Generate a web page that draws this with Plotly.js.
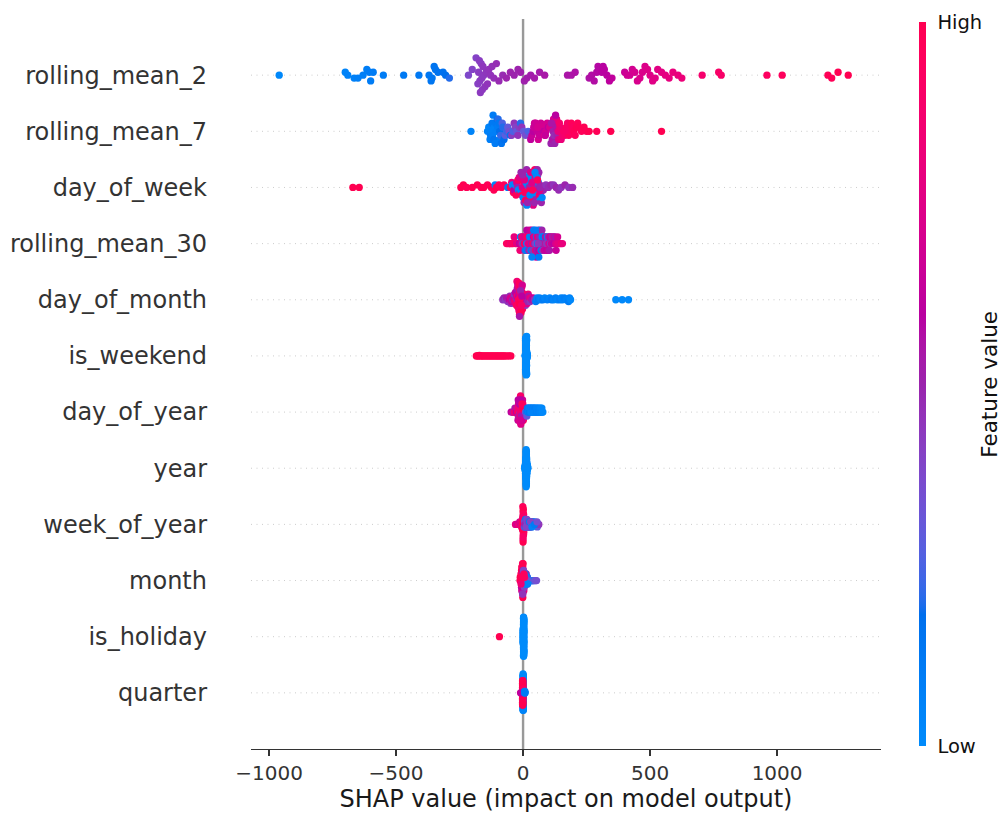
<!DOCTYPE html>
<html>
<head>
<meta charset="utf-8">
<script src="https://cdn.plot.ly/plotly-3.0.1.min.js"></script>
<style>
  html, body { margin: 0; padding: 0; background: #ffffff; }
  #chart { width: 1003px; height: 813px; }
</style>
</head>
<body>
<div id="chart"></div>
<script>
// Features, top to bottom (most important first)
const features = ['rolling_mean_2', 'rolling_mean_7', 'day_of_week', 'rolling_mean_30',
  'day_of_month', 'is_weekend', 'day_of_year', 'year', 'week_of_year', 'month',
  'is_holiday', 'quarter'];

const xTickVals = [-1000, -500, 0, 500, 1000];
const xTickText = ['\u22121000', '\u2212500', '0', '500', '1000'];

// SHAP values and scaled feature values (0 = low, 1 = high) per feature
const shap_rolling_mean_2 = [-960,-700,-690,-665,-650,-630,-615,-605,-600,-590,-550,-470,-410,-370,-362,-358,-350,-345,-335,-315,-305,-290,
  -215,-200,-185,-178,-175,-172,-170,-168,-165,-162,-160,-158,-155,-150,-145,-140,-135,-128,-122,-115,
  -105,-95,-80,-65,-50,-35,-20,-10,5,15,30,45,65,85,
  175,190,205,260,270,280,290,295,300,310,315,320,330,340,350,
  400,410,420,430,440,450,460,470,480,490,500,510,520,530,545,560,575,590,610,625,
  705,770,780,960,1020,1200,1215,1240,1280];
const fval_rolling_mean_2 = [0.02,0.05,0.06,0.07,0.08,0.08,0.09,0.1,0.1,0.1,0.1,0.12,0.12,0.13,0.14,0.14,0.15,0.15,0.16,0.17,0.18,0.2,
  0.38,0.4,0.4,0.41,0.42,0.42,0.42,0.43,0.42,0.43,0.43,0.44,0.43,0.44,0.44,0.45,0.45,0.45,0.46,0.46,
  0.47,0.48,0.48,0.5,0.5,0.5,0.5,0.51,0.51,0.52,0.52,0.53,0.53,0.54,
  0.55,0.55,0.56,0.56,0.57,0.57,0.58,0.58,0.58,0.59,0.59,0.6,0.6,0.61,0.62,
  0.66,0.67,0.68,0.69,0.7,0.71,0.72,0.72,0.73,0.74,0.74,0.75,0.76,0.76,0.77,0.78,0.79,0.8,0.8,0.82,
  0.88,0.9,0.9,0.94,0.95,0.98,0.98,0.99,1];

const shap_rolling_mean_7 = [-205,-140,-135,-130,-128,-125,-122,-120,-118,-115,-112,-110,-108,-105,-102,-100,-98,-95,-92,-90,-88,-85,-82,-80,-75,-70,-65,-60,
  -55,-50,-45,-40,-35,-30,-25,-20,-15,-10,-5,
  2,10,20,
  30,35,40,45,50,55,60,65,70,75,80,85,90,95,100,105,110,115,118,120,122,125,128,130,132,135,138,140,145,150,
  155,160,165,170,175,180,185,190,195,200,205,210,215,220,230,240,250,260,
  290,345,545,
  42,58,88,112,128,143,165];
const fval_rolling_mean_7 = [0.05,0.06,0.05,0.08,0.1,0.06,0.12,0.08,0.1,0.14,0.06,0.1,0.12,0.08,0.15,0.1,0.2,0.12,0.18,0.1,0.22,0.15,0.25,0.2,0.18,0.28,0.22,0.3,
  0.35,0.15,0.42,0.25,0.45,0.4,0.3,0.45,0.42,0.2,0.45,
  0.3,0.35,0.25,
  0.62,0.65,0.6,0.66,0.68,0.64,0.7,0.66,0.68,0.7,0.62,0.72,0.68,0.7,0.6,0.72,0.5,0.55,0.52,0.7,0.48,0.5,0.72,0.55,0.78,0.5,0.8,0.75,0.85,0.82,
  0.85,0.9,0.88,0.92,0.9,0.95,0.92,0.96,0.94,0.97,0.95,0.98,0.96,0.98,0.97,0.99,0.98,1,
  0.98,1,1,
  0.66,0.7,0.64,0.55,0.6,0.88,0.9];

const shap_day_of_week = [-670,-645,
  -245,-235,-222,-200,-180,-165,-155,-140,-125,-115,-110,-105,-95,-85,-75,-60,
  -50,-45,-42,-38,-35,-30,-28,-25,-22,-20,-18,-15,-12,-10,-8,-5,-3,0,2,4,6,8,10,12,14,16,18,20,22,24,26,28,30,32,34,36,38,40,42,44,46,48,50,52,54,56,58,60,62,64,66,68,70,72,75,78,80,
  5,15,25,35,45,55,65,-2,7,17,27,37,47,57,67,
  90,100,110,120,130,140,150,165,180,195];
const fval_day_of_week = [1,1,
  1,1,0.98,1,1,0.98,1,0.98,1,0.98,0.05,1,0.97,0.98,0.96,0.1,
  0.97,0.8,0.02,0.95,0.6,0.02,0.97,0.7,0.5,0.95,0.02,0.75,0.95,0.02,0.5,0.97,0.75,0.02,0.95,0.5,0.02,0.75,0.97,0.02,0.5,0.95,0.02,0.75,0.97,0.5,0.02,0.95,0.75,0.02,0.5,0.97,0.02,0.75,0.5,0.02,0.95,0.75,0.5,0.02,0.97,0.5,0.75,0.02,0.5,0.95,0.5,0.02,0.75,0.5,0.02,0.5,0.5,
  0.75,0.02,0.97,0.75,0.5,0.02,0.75,0.5,0.95,0.5,0.02,0.95,0.02,0.95,0.5,
  0.45,0.48,0.5,0.45,0.5,0.48,0.45,0.5,0.45,0.48];

const shap_rolling_mean_30 = [-65,-60,-55,-50,-45,-40,-35,-30,-25,-20,
  -15,-12,-10,-8,-5,-3,0,2,4,6,8,10,
  12,14,15,17,18,20,21,23,24,26,27,29,30,32,33,35,36,38,39,41,42,44,45,47,48,50,51,53,54,56,57,59,60,62,63,65,66,68,69,71,72,74,75,77,78,80,
  82,84,86,88,90,92,94,96,98,100,102,104,106,108,110,112,115,118,120,122,125,128,130,133,136,140,145,150,155,
  35,48,60];
const fval_rolling_mean_30 = [0.95,0.9,0.98,0.85,0.95,0.9,0.8,0.95,0.7,0.9,
  0.6,0.85,0.1,0.7,0.9,0.45,0.75,0.05,0.95,0.5,0.7,0.1,
  0.8,0.05,0.6,0.9,0.4,0.1,0.75,0.5,0.95,0.05,0.65,0.45,0.85,0.1,0.55,0.7,0.05,0.9,0.45,0.6,0.1,0.75,0.5,0.05,0.85,0.4,0.65,0.1,0.55,0.7,0.05,0.45,0.8,0.1,0.6,0.5,0.05,0.7,0.45,0.1,0.65,0.5,0.05,0.6,0.45,0.1,
  0.5,0.65,0.1,0.55,0.7,0.45,0.6,0.05,0.65,0.5,0.7,0.55,0.6,0.45,0.7,0.65,0.5,0.7,0.6,0.75,0.55,0.7,0.65,0.75,0.7,0.8,0.75,0.85,0.8,
  0.05,0.1,0.45];

const shap_day_of_month = [-80,-75,-70,-65,-60,-55,-52,-50,-48,-45,-42,-40,-38,-36,-34,-32,-30,-28,-27,-26,-25,-24,-23,-22,-21,-20,-19,-18,-17,-16,-15,-14,-13,-12,-11,-10,-9,-8,-7,-6,-5,-4,-3,-2,0,2,4,5,6,8,10,12,14,16,18,20,22,25,28,30,35,40,45,
  50,55,60,65,70,78,85,95,105,111,120,128,135,145,150,155,162,170,175,179,183,187,
  365,390,415,
  -20,-18,-16,-15,-14,-12,-10,-8,-6,-14,-10,-5];
const fval_day_of_month = [0.45,0.5,0.42,0.55,0.45,0.6,0.48,0.7,0.45,0.65,0.5,0.8,0.55,0.7,0.45,0.9,0.6,0.75,0.5,0.95,0.65,0.85,0.55,0.9,0.7,0.95,0.6,0.85,0.65,0.95,0.75,0.9,0.6,0.95,0.8,1,0.7,0.9,0.65,0.95,0.8,0.9,0.7,0.95,0.75,0.9,0.65,0.5,0.85,0.7,0.45,0.9,0.6,0.75,0.5,0.85,0.55,0.7,0.45,0.8,0.55,0.65,0.45,
  0.1,0.05,0.12,0.08,0.05,0.1,0.05,0.08,0.05,0.1,0.05,0.08,0.05,0.1,0.05,0.05,0.08,0.05,0.05,0.1,0.05,0.02,
  0.02,0.02,0.02,
  0.9,0.95,0.85,1,0.95,0.85,0.95,1,0.9,0.55,0.5,0.6];

const shap_is_weekend = [-184,-180,-176,-172,-168,-165,-160,-155,-150,-145,-140,-135,-130,-125,-120,-115,-110,-105,-100,-95,-90,-85,-80,-75,-70,-62,-55,-48,
  12,13,11,14,12,13,10,15,12,13, 11,14,12,13,16,9,12,13,11,14, 12,13,10,15,12,13,11,14,12,13, 17,8,12,13,11,14,12,13,10,15,
  12,13,11,14,12,13,16,9,12,13, 11,14,12,13,10,15,12,13,11,14, 12,13,12,13,11,14,12,13,12,13, 11,14];
const fval_is_weekend = [1,1,1,1,1,1,1,1,1,1,1,1,1,1,1,1,1,1,1,1,1,1,1,1,1,1,1,1,
  0,0,0,0,0,0,0,0,0,0, 0,0,0,0,0,0,0,0,0,0, 0,0,0,0,0,0,0,0,0,0, 0,0,0,0,0,0,0,0,0,0,
  0,0,0,0,0,0,0,0,0,0, 0,0,0,0,0,0,0,0,0,0, 0,0,0,0,0,0,0,0,0,0, 0,0];

const shap_day_of_year = [-47,-42,-38,-35,-32,-30,-28,-26,-24,-22,-21,-20,-19,-18,-17,-16,-15,-14,-13,-12,-11,-10,-9,-8,-7,-6,-5,-4,-3,-2,-1,0,1,2,3,4,5,6,7,8,
  -18,-15,-12,-9,-6,-3,0,-20,-14,-8,-2,-17,-11,-5,-1,-19,-13,-7,-4,-10,
  10,12,14,15,17,18,20,22,23,25,27,28,30,32,33,35,37,38,40,42,43,45,47,48,50,52,53,55,57,58,60,62,64,66,68,70,72,74,76,78];
const fval_day_of_year = [0.6,0.7,0.5,0.85,0.55,0.75,0.95,0.6,0.8,0.5,0.9,0.65,0.75,1,0.55,0.85,0.7,0.95,0.45,0.8,0.6,0.9,0.75,0.5,1,0.65,0.85,0.55,0.95,0.7,0.8,0.6,0.9,0.5,0.75,0.4,0.85,0.55,0.35,0.65,
  0.7,0.55,0.9,0.6,0.8,0.5,0.95,0.85,0.6,0.75,0.9,0.5,0.85,0.65,1,0.6,0.8,0.55,0.95,0.7,
  0.3,0.25,0.2,0.3,0.15,0.1,0.2,0.1,0.05,0.15,0.1,0.05,0.1,0.05,0.08,0.05,0.1,0.05,0.05,0.08,0.05,0.05,0.1,0.05,0.05,0.05,0.08,0.05,0.05,0.05,0.05,0.08,0.05,0.05,0.05,0.02,0.05,0.02,0.02,0.02];

const shap_year = [12,13,11,12,14,13,10,12,15,11, 13,12,9,14,13,12,11,16,12,13, 10,14,11,13,12,8,15,12,13,11, 14,12,13,10,12,17,13,11,14,12,
  15,13,9,12,11,13,14,12,10,13, 16,12,11,13,15,14,12,8,13,11, 12,14,10,13,12,15,11,18,13,12, 14,9,12,13,11,15,12,10,13,14,
  12,16,11,13,7,12,14,13,15,10, 12,11,8,13,14,9,16,19,7,18];
const fval_year = [0,0,0,0,0,0,0,0,0,0, 0,0,0,0,0,0,0,0,0,0, 0,0,0,0,0,0,0,0,0,0, 0,0,0,0,0,0,0,0,0,0, 0,0,0,0,0,0,0,0,0,0,
  0,0,0,0,0,0,0,0,0,0, 0,0,0,0,0,0,0,0,0,0, 0,0,0,0,0,0,0,0,0,0, 0,0,0,0,0,0,0,0,0,0, 0,0,0,0,0,0,0,0,0,0];

const shap_week_of_year = [-30,-26,-22,-20,-18,-15,-13,-11,-9,-8,-7,-6,-5,-4,-3,
  -2,-1,0,0,1,1,2,-2,-1,0,1,2,3,-1,0,2,3,-2,1,0,4,-1,2,3,1,0,4,-2,2,3,
  5,6,7,8,9,10,11,12,13,14,15,16,17,18,19,20,21,22,23,24,25,26,27,28,29,30,31,32,33,34,35,36,37,38,40,42,44,46,48,50,52,54,56,58,60,62,
  8,12,16,20,25,30,35,45,55];
const fval_week_of_year = [0.8,0.7,0.85,0.6,0.75,0.9,0.65,0.8,0.7,0.95,0.6,0.85,0.75,0.9,0.7,
  1,0.95,1,0.9,1,0.95,0.9,0.95,1,0.85,0.9,1,0.95,0.9,1,0.85,1,0.9,0.85,0.95,0.9,0.85,0.95,0.9,1,0.9,1,1,0.9,0.85,
  0.4,0.3,0.5,0.2,0.45,0.1,0.35,0.05,0.5,0.25,0.4,0.1,0.45,0.2,0.35,0.05,0.5,0.15,0.4,0.1,0.3,0.05,0.45,0.15,0.35,0.05,0.4,0.1,0.3,0.05,0.45,0.1,0.25,0.05,0.4,0.1,0.3,0.05,0.35,0.1,0.4,0.05,0.3,0.1,0.35,0.45,
  0.5,0.4,0.3,0.45,0.1,0.4,0.05,0.1,0.35];

const shap_month = [-12,-10,-9,-8,-7,-6,-6,-5,-5,-5,-4,-4,-4,-3,-3,-3,-2,-2,-2,-1,-1,-1,0,0,0,1,1,2,2,3,
  4,5,6,7,8,9,10,11,12,13,14,15,16,17,18,19,20,22,24,26,28,30,32,34,36,38,40,43,46,50,53,
  -6,-5,-4,-3,-2,-1,0,1,2,3,-5,-3,-1,1,3,5,7,9,11,13,-4,-2,0,2,4,6,8,10,12,14,16,18,-7,-9,-11,-8,4,6,0];
const fval_month = [0.9,1,0.85,0.95,1,0.9,1,0.95,1,0.85,1,0.9,0.95,1,0.85,0.95,0.9,1,0.8,0.95,0.85,1,0.9,0.75,1,0.85,0.7,0.9,0.65,0.8,
  0.6,0.55,0.5,0.45,0.6,0.4,0.5,0.35,0.55,0.3,0.45,0.25,0.5,0.2,0.4,0.15,0.45,0.1,0.35,0.05,0.4,0.1,0.3,0.05,0.35,0.1,0.3,0.05,0.35,0.3,0.35,
  0.6,0.5,0.65,0.45,0.7,0.5,0.6,0.4,0.55,0.45,0.7,0.6,0.65,0.55,0.35,0.4,0.3,0.2,0.1,0.05,0.55,0.45,0.5,0.4,0.3,0.2,0.1,0.05,0.3,0.1,0.35,0.05,0.9,0.95,1,0.85,0.95,0.9,0.95];

const shap_is_holiday = [-93,
  2,1,3,2,2,1,3,2,1,2, 3,2,1,2,3,1,2,2,3,1, 2,1,3,2,2,3,1,2,1,3, 2,2,1,3,2,1,2,3,2,1, 3,2,2,1,3,2,1,2,3,2,
  1,2,3,2,1,2,2,3,1,2, 3,1,2,2,1,3,2,2,1,3, 2,1,2,3,2,2,1,3,2,1, 2,3,2,1,2,3,2,1,2,2, 3,1,2,1,2,3,2,2,1];
const fval_is_holiday = [1,
  0,0,0,0,0,0,0,0,0,0, 0,0,0,0,0,0,0,0,0,0, 0,0,0,0,0,0,0,0,0,0, 0,0,0,0,0,0,0,0,0,0, 0,0,0,0,0,0,0,0,0,0,
  0,0,0,0,0,0,0,0,0,0, 0,0,0,0,0,0,0,0,0,0, 0,0,0,0,0,0,0,0,0,0, 0,0,0,0,0,0,0,0,0,0, 0,0,0,0,0,0,0,0,0];

const shap_quarter = [0,1,0,1,0,1,0,1,0,1, 0,1,0,1,0,1,0,1,0,1, 0,1,0,1,0,1,0,1,0,1, 0,1,0,1,0,1,0,1,0,1, 0,1,0,1,0,1,0,1,0,1, 0,1,0,1,0,
  -1,-2,-1,-2,-1,-2,-1,-2,-1,-2, -1,-2,-1,-2,-1,-2,-1,-2,-1,-2, -1,-2,-1,-2,-1,-2,-1,-2,-1,-2, -1,-2,-1,-2,-1,-2,-1,-2,
  -10,-8,
  6,7,8,7,6];
const fval_quarter = [0.02,0.05,0.02,0.05,0.02,0.05,0.02,0.05,0.02,0.05, 0.02,0.05,0.02,0.05,0.02,0.05,0.02,0.05,0.02,0.05, 0.02,0.05,0.02,0.05,0.02,0.05,0.02,0.05,0.02,0.05,
  0.02,0.05,0.02,0.05,0.02,0.05,0.02,0.05,0.02,0.05, 0.02,0.05,0.02,0.05,0.02,0.05,0.02,0.05,0.02,0.05, 0.02,0.05,0.02,0.05,0.02,
  0.95,1,0.9,1,0.95,1,0.9,1,0.95,1, 0.9,1,0.95,1,0.9,1,0.95,1,0.9,1, 0.95,1,0.9,1,0.95,1,0.9,1,0.95,1, 0.9,1,0.95,1,0.9,1,0.95,1,
  0.7,0.6,
  0.1,0.1,0.1,0.1,0.1];

const shapByFeature = {
  rolling_mean_2: shap_rolling_mean_2, rolling_mean_7: shap_rolling_mean_7, day_of_week: shap_day_of_week,
  rolling_mean_30: shap_rolling_mean_30, day_of_month: shap_day_of_month, is_weekend: shap_is_weekend,
  day_of_year: shap_day_of_year, year: shap_year, week_of_year: shap_week_of_year, month: shap_month,
  is_holiday: shap_is_holiday, quarter: shap_quarter
};
const fvalByFeature = {
  rolling_mean_2: fval_rolling_mean_2, rolling_mean_7: fval_rolling_mean_7, day_of_week: fval_day_of_week,
  rolling_mean_30: fval_rolling_mean_30, day_of_month: fval_day_of_month, is_weekend: fval_is_weekend,
  day_of_year: fval_day_of_year, year: fval_year, week_of_year: fval_week_of_year, month: fval_month,
  is_holiday: fval_is_holiday, quarter: fval_quarter
};

// Red-blue colormap: interpolation in LCh(ab) space, blue -> dark purple -> red
function lchToRgb(L, C, H) {
  const a = C * Math.cos(H), b = C * Math.sin(H);
  const fy = (L + 16) / 116, fx = fy + a / 500, fz = fy - b / 200;
  const finv = t => (t * t * t > 0.008856 ? t * t * t : (t - 16 / 116) / 7.787);
  const X = 0.95047 * finv(fx), Y = finv(fy), Z = 1.08883 * finv(fz);
  const lin = [
    3.2406 * X - 1.5372 * Y - 0.4986 * Z,
    -0.9689 * X + 1.8758 * Y + 0.0415 * Z,
    0.0557 * X - 0.2040 * Y + 1.0570 * Z
  ];
  return lin.map(v => {
    const g = v > 0.0031308 ? 1.055 * Math.pow(v, 1 / 2.4) - 0.055 : 12.92 * v;
    return Math.round(Math.min(1, Math.max(0, g)) * 255);
  });
}
function redBlueScale() {
  const n = 100, half = n / 2;
  const hBlue = 4.6588, hRed = 0.35470565 + 2 * Math.PI;
  const scale = [];
  for (let i = 0; i < n; i++) {
    const t = i / (n - 1);
    const L = i < half ? 54 + (40 - 54) * (i / (half - 1)) : 40 + (54 - 40) * ((i - half) / (half - 1));
    const C = 70 + (90 - 70) * t;
    const H = hBlue + (hRed - hBlue) * t;
    const [r, g, b] = lchToRgb(L, C, H);
    scale.push([t, `rgb(${r},${g},${b})`]);
  }
  return scale;
}
const colorscale = redBlueScale();

// Beeswarm offsets: points sharing a bin stack alternately above and below the row.
// Within a bin the stacking order is shuffled by a fixed golden-ratio key so that
// neighbouring values do not line up in a diagonal.
function swarmOffsets(vals, rowHeight, nbins) {
  const n = vals.length;
  const mn = Math.min(...vals), mx = Math.max(...vals);
  const q = vals.map(v => Math.round(nbins * (v - mn) / (mx - mn + 1e-8)));
  const key = i => (i * 0.6180339887) % 1;
  const order = vals.map((_, i) => i).sort((a, b) => (q[a] - q[b]) || (key(a) - key(b)));
  const ys = new Array(n).fill(0);
  let layer = 0, last = -1;
  for (const i of order) {
    if (q[i] !== last) layer = 0;
    ys[i] = Math.ceil(layer / 2) * ((layer % 2) * 2 - 1);
    layer++;
    last = q[i];
  }
  const top = Math.max(...ys.map(y => y + 1));
  return ys.map(y => y * 0.9 * (rowHeight / top));
}

const nRows = features.length;
const traces = [];
const shapes = [];

features.slice().reverse().forEach((name, k) => {
  const pos = k; // bottom feature at 0
  const xs = shapByFeature[name];
  const cs = fvalByFeature[name];
  const off = swarmOffsets(xs, 0.4, 40);
  shapes.push({
    type: 'line', layer: 'below', xref: 'paper', x0: 0, x1: 1, yref: 'y', y0: pos, y1: pos,
    line: { color: '#cccccc', width: 1, dash: '1px,4.5px' }
  });
  traces.push({
    type: 'scatter', mode: 'markers', name: name,
    x: xs, y: off.map(o => pos + o),
    hoverinfo: 'skip',
    marker: {
      size: 7.3, color: cs, colorscale: colorscale, cmin: 0, cmax: 1,
      line: { width: 0 },
      showscale: pos === nRows - 1,
      colorbar: {
        thickness: 7, thicknessmode: 'pixels',
        len: 0.992, lenmode: 'fraction', y: 0.5, yanchor: 'middle',
        x: 1.0603, xanchor: 'left', xpad: 0, ypad: 0,
        outlinewidth: 0,
        tickvals: [0, 1], ticktext: ['Low', 'High'],
        ticks: 'outside', ticklen: 8, tickcolor: 'rgba(0,0,0,0)',
        tickfont: { family: 'DejaVu Sans', size: 19.5, color: '#111111' }
      }
    }
  });
});

// Vertical line at zero
shapes.push({
  type: 'line', layer: 'below', xref: 'x', x0: 0, x1: 0, yref: 'paper', y0: 0, y1: 1,
  line: { color: '#999999', width: 2.4 }
});

const layout = {
  width: 1003, height: 813,
  margin: { l: 251, r: 122, t: 19, b: 64 },
  paper_bgcolor: '#ffffff', plot_bgcolor: '#ffffff',
  font: { family: 'DejaVu Sans', color: '#333333' },
  showlegend: false,
  xaxis: {
    range: [-1071, 1409],
    tickvals: xTickVals, ticktext: xTickText,
    ticks: 'outside', ticklen: 6, tickwidth: 1.4, tickcolor: '#333333',
    showline: true, linecolor: '#333333', linewidth: 1.4,
    showgrid: false, zeroline: false,
    tickfont: { family: 'DejaVu Sans', size: 20, color: '#333333' },
    title: { text: 'SHAP value (impact on model output)', standoff: 8,
      font: { family: 'DejaVu Sans', size: 24, color: '#1a1a1a' } },
    automargin: false, fixedrange: true
  },
  yaxis: {
    range: [-1, 12],
    tickvals: features.map((_, i) => nRows - 1 - i), ticktext: features,
    ticks: '', showline: false, showgrid: false, zeroline: false,
    ticklabelstandoff: 43,
    tickfont: { family: 'DejaVu Sans', size: 24, color: '#333333' },
    automargin: false, fixedrange: true
  },
  annotations: [{
    text: 'Feature value', xref: 'paper', yref: 'paper', x: 1.171, y: 0.5,
    xanchor: 'center', yanchor: 'middle', textangle: -90, showarrow: false,
    font: { family: 'DejaVu Sans', size: 21.5, color: '#111111' }
  }],
  shapes: shapes
};

Plotly.newPlot('chart', traces, layout, { displayModeBar: false, staticPlot: true });
</script>
</body>
</html>
